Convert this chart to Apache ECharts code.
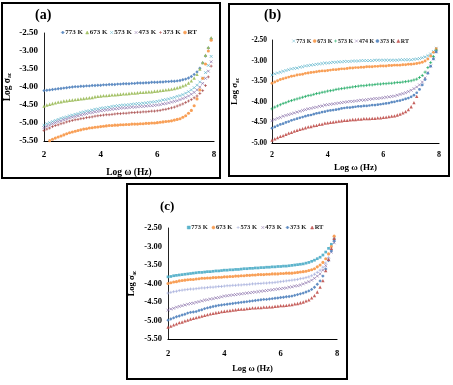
<!DOCTYPE html>
<html>
<head>
<meta charset="utf-8">
<script src="https://cdn.jsdelivr.net/npm/echarts@6/dist/echarts.min.js"></script>
<style>html,body{margin:0;background:#fff}#main{width:453px;height:385px}</style>
</head>
<body>
<div id="main"></div>
<script>
// log(omega) sampling points, shared by every curve
const logW = [2.0,2.1,2.2,2.3,2.4,2.5,2.6,2.7,2.8,2.9,3.0,3.1,3.2,3.3,3.4,3.5,3.6,3.7,3.8,3.9,
  4.0,4.1,4.2,4.3,4.4,4.5,4.6,4.7,4.8,4.9,5.0,5.1,5.2,5.3,5.4,5.5,5.6,5.7,5.8,5.9,
  6.0,6.1,6.2,6.3,6.4,6.5,6.6,6.7,6.8,6.9,7.0,7.1,7.2,7.3,7.4,7.5,7.6,7.7,7.8,7.9];
const xTicks = [2, 4, 6, 8];

// (a)
const a773 = [-4.10,-4.09,-4.08,-4.07,-4.06,-4.05,-4.04,-4.03,-4.02,-4.01,-4.00,-3.99,-3.99,-3.98,-3.98,-3.97,-3.97,-3.96,-3.96,-3.95,
  -3.95,-3.94,-3.94,-3.93,-3.93,-3.93,-3.92,-3.92,-3.91,-3.91,-3.91,-3.90,-3.90,-3.89,-3.89,-3.89,-3.88,-3.88,-3.87,-3.87,
  -3.87,-3.86,-3.86,-3.85,-3.85,-3.84,-3.84,-3.83,-3.82,-3.80,-3.78,-3.75,-3.71,-3.65,-3.58,-3.48,-3.33,-3.14,-2.92,-2.66];
const a673 = [-4.53,-4.50,-4.48,-4.46,-4.44,-4.42,-4.41,-4.39,-4.38,-4.37,-4.36,-4.35,-4.34,-4.33,-4.32,-4.31,-4.30,-4.29,-4.27,-4.26,
  -4.25,-4.24,-4.24,-4.23,-4.22,-4.22,-4.21,-4.20,-4.19,-4.19,-4.18,-4.17,-4.17,-4.16,-4.15,-4.15,-4.14,-4.13,-4.13,-4.12,
  -4.11,-4.10,-4.09,-4.08,-4.07,-4.06,-4.04,-4.02,-4.00,-3.97,-3.94,-3.89,-3.83,-3.75,-3.65,-3.50,-3.32,-3.12,-2.90,-2.63];
const a573 = [-5.06,-5.02,-4.99,-4.96,-4.93,-4.90,-4.87,-4.85,-4.83,-4.80,-4.78,-4.76,-4.74,-4.71,-4.69,-4.67,-4.66,-4.64,-4.62,-4.61,
  -4.59,-4.58,-4.57,-4.56,-4.54,-4.53,-4.52,-4.51,-4.50,-4.50,-4.49,-4.48,-4.47,-4.46,-4.46,-4.45,-4.44,-4.43,-4.42,-4.41,
  -4.40,-4.38,-4.36,-4.35,-4.33,-4.31,-4.29,-4.26,-4.24,-4.21,-4.17,-4.13,-4.08,-4.02,-3.95,-3.86,-3.75,-3.60,-3.40,-3.15];
const a473 = [-5.13,-5.09,-5.06,-5.02,-4.99,-4.96,-4.94,-4.91,-4.89,-4.86,-4.84,-4.82,-4.80,-4.78,-4.76,-4.74,-4.72,-4.71,-4.69,-4.68,
  -4.66,-4.65,-4.64,-4.63,-4.62,-4.61,-4.60,-4.59,-4.58,-4.58,-4.57,-4.56,-4.56,-4.55,-4.54,-4.54,-4.53,-4.52,-4.52,-4.51,
  -4.50,-4.49,-4.47,-4.46,-4.44,-4.42,-4.40,-4.38,-4.35,-4.32,-4.29,-4.25,-4.20,-4.15,-4.08,-4.00,-3.90,-3.76,-3.56,-3.30];
const a373 = [-5.21,-5.17,-5.14,-5.10,-5.07,-5.05,-5.02,-5.00,-4.97,-4.95,-4.93,-4.91,-4.90,-4.88,-4.87,-4.85,-4.84,-4.83,-4.81,-4.80,
  -4.79,-4.78,-4.77,-4.77,-4.76,-4.75,-4.74,-4.74,-4.73,-4.73,-4.72,-4.71,-4.71,-4.70,-4.70,-4.69,-4.69,-4.68,-4.67,-4.67,
  -4.66,-4.65,-4.63,-4.62,-4.60,-4.58,-4.56,-4.53,-4.50,-4.47,-4.43,-4.39,-4.35,-4.30,-4.25,-4.18,-4.10,-3.96,-3.72,-3.42];
const aRT = [-5.58,-5.53,-5.49,-5.45,-5.42,-5.39,-5.36,-5.33,-5.30,-5.27,-5.25,-5.23,-5.21,-5.19,-5.17,-5.16,-5.14,-5.13,-5.12,-5.11,
  -5.10,-5.09,-5.08,-5.07,-5.07,-5.06,-5.06,-5.05,-5.05,-5.04,-5.04,-5.03,-5.03,-5.03,-5.02,-5.02,-5.01,-5.01,-5.00,-5.00,
  -4.99,-4.98,-4.97,-4.96,-4.95,-4.94,-4.92,-4.90,-4.88,-4.84,-4.80,-4.73,-4.65,-4.52,-4.33,-4.08,-3.76,-3.36,-3.00,-2.70];

// (b)
const b773 = [-3.35,-3.32,-3.30,-3.28,-3.26,-3.24,-3.22,-3.20,-3.19,-3.18,-3.16,-3.15,-3.13,-3.12,-3.11,-3.10,-3.09,-3.08,-3.07,-3.06,
  -3.06,-3.05,-3.04,-3.04,-3.03,-3.03,-3.02,-3.02,-3.02,-3.01,-3.01,-3.01,-3.00,-3.00,-3.00,-3.00,-3.00,-2.99,-2.99,-2.99,
  -2.99,-2.99,-2.99,-2.99,-2.99,-2.99,-2.98,-2.98,-2.98,-2.98,-2.98,-2.97,-2.96,-2.95,-2.93,-2.91,-2.88,-2.84,-2.78,-2.70];
const b673 = [-3.55,-3.52,-3.49,-3.46,-3.44,-3.42,-3.40,-3.38,-3.37,-3.35,-3.34,-3.33,-3.31,-3.30,-3.29,-3.28,-3.27,-3.26,-3.25,-3.25,
  -3.24,-3.23,-3.22,-3.22,-3.21,-3.20,-3.20,-3.19,-3.18,-3.18,-3.17,-3.17,-3.16,-3.16,-3.15,-3.15,-3.15,-3.14,-3.14,-3.13,
  -3.13,-3.13,-3.12,-3.12,-3.11,-3.11,-3.11,-3.10,-3.10,-3.09,-3.09,-3.08,-3.07,-3.06,-3.04,-3.01,-2.96,-2.89,-2.80,-2.71];
const b573 = [-4.17,-4.13,-4.10,-4.07,-4.04,-4.02,-3.99,-3.97,-3.95,-3.93,-3.91,-3.89,-3.87,-3.85,-3.84,-3.82,-3.80,-3.79,-3.77,-3.76,
  -3.74,-3.73,-3.72,-3.70,-3.69,-3.68,-3.67,-3.66,-3.65,-3.64,-3.63,-3.62,-3.61,-3.61,-3.60,-3.59,-3.59,-3.58,-3.57,-3.57,
  -3.56,-3.56,-3.55,-3.55,-3.54,-3.53,-3.53,-3.52,-3.51,-3.50,-3.49,-3.47,-3.45,-3.41,-3.36,-3.28,-3.17,-3.05,-2.90,-2.75];
const b474 = [-4.46,-4.43,-4.40,-4.38,-4.35,-4.33,-4.31,-4.29,-4.27,-4.25,-4.23,-4.21,-4.19,-4.17,-4.16,-4.14,-4.13,-4.11,-4.10,-4.08,
  -4.07,-4.06,-4.05,-4.04,-4.03,-4.02,-4.01,-4.00,-3.99,-3.99,-3.98,-3.97,-3.96,-3.96,-3.95,-3.94,-3.93,-3.92,-3.92,-3.91,
  -3.90,-3.89,-3.88,-3.87,-3.86,-3.84,-3.82,-3.80,-3.78,-3.75,-3.72,-3.68,-3.64,-3.59,-3.52,-3.42,-3.29,-3.13,-2.96,-2.79];
const b373 = [-4.64,-4.61,-4.58,-4.55,-4.53,-4.50,-4.48,-4.45,-4.43,-4.41,-4.39,-4.37,-4.35,-4.33,-4.32,-4.30,-4.28,-4.27,-4.25,-4.24,
  -4.22,-4.21,-4.20,-4.19,-4.18,-4.16,-4.15,-4.14,-4.14,-4.13,-4.12,-4.11,-4.11,-4.10,-4.10,-4.09,-4.08,-4.08,-4.07,-4.06,
  -4.05,-4.04,-4.03,-4.01,-4.00,-3.98,-3.97,-3.95,-3.93,-3.91,-3.88,-3.84,-3.78,-3.70,-3.59,-3.46,-3.31,-3.14,-2.96,-2.79];
const bRT = [-4.93,-4.90,-4.87,-4.84,-4.82,-4.79,-4.76,-4.74,-4.71,-4.69,-4.67,-4.65,-4.63,-4.61,-4.60,-4.58,-4.57,-4.55,-4.54,-4.52,
  -4.51,-4.50,-4.49,-4.48,-4.47,-4.46,-4.45,-4.45,-4.44,-4.43,-4.43,-4.42,-4.42,-4.41,-4.41,-4.41,-4.40,-4.40,-4.39,-4.39,
  -4.38,-4.37,-4.36,-4.35,-4.34,-4.32,-4.30,-4.27,-4.24,-4.19,-4.12,-4.02,-3.87];

// (c)
const c773 = [-3.82,-3.81,-3.79,-3.78,-3.77,-3.76,-3.75,-3.74,-3.73,-3.72,-3.71,-3.70,-3.70,-3.69,-3.68,-3.68,-3.67,-3.66,-3.66,-3.65,
  -3.64,-3.64,-3.63,-3.63,-3.62,-3.62,-3.61,-3.60,-3.60,-3.59,-3.59,-3.58,-3.58,-3.57,-3.57,-3.56,-3.56,-3.55,-3.55,-3.54,
  -3.54,-3.53,-3.53,-3.52,-3.51,-3.50,-3.49,-3.48,-3.47,-3.45,-3.43,-3.40,-3.37,-3.33,-3.29,-3.23,-3.15,-3.05,-2.94,-2.80];
const c673 = [-4.00,-3.98,-3.96,-3.95,-3.93,-3.92,-3.91,-3.90,-3.89,-3.89,-3.88,-3.87,-3.86,-3.86,-3.85,-3.85,-3.84,-3.84,-3.83,-3.83,
  -3.82,-3.82,-3.81,-3.81,-3.80,-3.80,-3.79,-3.79,-3.78,-3.78,-3.77,-3.77,-3.76,-3.76,-3.76,-3.75,-3.75,-3.74,-3.74,-3.74,
  -3.73,-3.73,-3.72,-3.72,-3.72,-3.71,-3.70,-3.69,-3.68,-3.67,-3.65,-3.63,-3.60,-3.55,-3.50,-3.43,-3.33,-3.20,-3.00,-2.72];
const c573 = [-4.26,-4.24,-4.22,-4.21,-4.19,-4.18,-4.17,-4.16,-4.15,-4.15,-4.14,-4.13,-4.12,-4.12,-4.11,-4.10,-4.10,-4.09,-4.08,-4.08,
  -4.07,-4.06,-4.06,-4.05,-4.05,-4.04,-4.04,-4.03,-4.03,-4.02,-4.01,-4.01,-4.00,-4.00,-3.99,-3.99,-3.98,-3.98,-3.97,-3.96,
  -3.95,-3.94,-3.93,-3.92,-3.91,-3.90,-3.89,-3.87,-3.86,-3.84,-3.82,-3.79,-3.75,-3.70,-3.64,-3.56,-3.45,-3.30,-3.08,-2.80];
const c473 = [-4.72,-4.69,-4.67,-4.64,-4.62,-4.60,-4.58,-4.56,-4.54,-4.53,-4.51,-4.49,-4.47,-4.45,-4.44,-4.42,-4.41,-4.39,-4.38,-4.36,
  -4.34,-4.33,-4.32,-4.31,-4.30,-4.29,-4.28,-4.27,-4.26,-4.25,-4.24,-4.23,-4.22,-4.21,-4.20,-4.19,-4.18,-4.17,-4.16,-4.15,
  -4.14,-4.13,-4.12,-4.10,-4.09,-4.07,-4.06,-4.04,-4.01,-3.98,-3.95,-3.91,-3.86,-3.80,-3.74,-3.64,-3.52,-3.36,-3.15,-2.90];
const c373 = [-4.99,-4.96,-4.93,-4.90,-4.88,-4.85,-4.83,-4.80,-4.78,-4.77,-4.76,-4.73,-4.71,-4.68,-4.66,-4.64,-4.62,-4.61,-4.59,-4.58,
  -4.57,-4.56,-4.55,-4.54,-4.53,-4.52,-4.51,-4.50,-4.49,-4.48,-4.47,-4.46,-4.45,-4.44,-4.43,-4.43,-4.42,-4.41,-4.40,-4.39,
  -4.38,-4.37,-4.36,-4.35,-4.34,-4.32,-4.30,-4.28,-4.26,-4.23,-4.20,-4.16,-4.10,-4.02,-3.93,-3.80,-3.61,-3.38,-3.12,-2.85];
const cRT = [-5.18,-5.15,-5.12,-5.09,-5.06,-5.04,-5.01,-4.99,-4.96,-4.94,-4.92,-4.90,-4.88,-4.86,-4.84,-4.82,-4.81,-4.79,-4.78,-4.76,
  -4.75,-4.74,-4.73,-4.72,-4.71,-4.70,-4.69,-4.69,-4.68,-4.67,-4.66,-4.66,-4.65,-4.65,-4.64,-4.64,-4.63,-4.63,-4.62,-4.61,
  -4.60,-4.60,-4.59,-4.58,-4.57,-4.55,-4.54,-4.52,-4.50,-4.47,-4.44,-4.39,-4.33,-4.23,-4.10,-3.92,-3.65,-3.35,-3.05,-2.78];

const legendA = ['773 K', '673 K', '573 K', '473 K', '373 K', 'RT'];
const legendB = ['773 K', '673 K', '573 K', '474 K', '373 K', 'RT'];
const legendC = ['773 K', '673 K', '573 K', '473 K', '373 K', 'RT'];

const FONT = 'Liberation Serif';
const CROSS = 'path://M0,0L10,10M10,0L0,10';
const PLUS = 'path://M5,0L5,10M0,5L10,5';

function mk(panel, name, idx, ys, color, symbol, size, bw) {
  return {
    name: panel + '|' + name,
    type: 'scatter',
    xAxisIndex: idx,
    yAxisIndex: idx,
    symbol: symbol,
    symbolSize: size,
    itemStyle: { color: color, borderColor: color, borderWidth: bw || 0, opacity: 0.9 },
    data: ys.map((y, i) => [logW[i], y])
  };
}

function xAx(idx, size, margin, gap, nameSize) {
  return {
    gridIndex: idx, type: 'value', min: 2, max: 8, interval: 2,
    name: 'Log \u03c9 (Hz)', nameLocation: 'middle', nameGap: gap,
    nameTextStyle: { fontFamily: FONT, fontWeight: 'bold', fontSize: nameSize, color: '#000' },
    axisLine: { lineStyle: { color: '#000', width: 1.2 } },
    axisTick: { show: false }, splitLine: { show: false },
    axisLabel: { fontFamily: FONT, fontWeight: 'bold', fontSize: size, color: '#000', margin: margin,
      formatter: v => xTicks.includes(v) ? String(v) : '' }
  };
}

function yAx(idx, min, size, margin, gap, nameSize) {
  return {
    gridIndex: idx, type: 'value', min: min, max: -2.5, interval: 0.5,
    name: '{n|Log \u03c3}{s|ac}', nameLocation: 'middle', nameRotate: 90, nameGap: gap,
    nameTextStyle: { rich: {
      n: { fontFamily: FONT, fontWeight: 'bold', fontSize: nameSize, color: '#000' },
      s: { fontFamily: FONT, fontWeight: 'bold', fontSize: nameSize * 0.6, color: '#000', padding: [5, 0, 0, 0] }
    } },
    axisLine: { show: true, lineStyle: { color: '#222', width: 1 } },
    axisTick: { show: false }, splitLine: { show: false },
    axisLabel: { fontFamily: FONT, fontWeight: 'bold', fontSize: size, color: '#000', margin: margin,
      formatter: v => v.toFixed(2) }
  };
}

function lg(panel, names, left, top, size, gap) {
  return {
    left: left, top: top, padding: 0, itemWidth: 3, itemHeight: 3, itemGap: gap,
    itemStyle: { borderWidth: 0.5 },
    data: names.map(n => panel + '|' + n),
    formatter: n => n.split('|')[1],
    textStyle: { fontFamily: FONT, fontWeight: 'bold', fontSize: size, color: '#222', padding: [0, 0, 0, -4] }
  };
}

const chart = echarts.init(document.getElementById('main'));
chart.setOption({
  backgroundColor: '#fff',
  animation: false,
  title: [
    { text: '(a)', left: 35, top: 8, padding: 0, textStyle: { fontFamily: FONT, fontWeight: 'bold', fontSize: 14, color: '#000' } },
    { text: '(b)', left: 264, top: 8, padding: 0, textStyle: { fontFamily: FONT, fontWeight: 'bold', fontSize: 14, color: '#000' } },
    { text: '(c)', left: 160, top: 200, padding: 0, textStyle: { fontFamily: FONT, fontWeight: 'bold', fontSize: 13, color: '#000' } }
  ],
  graphic: [
    { type: 'rect', shape: { x: 2, y: 3, width: 218, height: 175 }, style: { fill: 'none', stroke: '#000', lineWidth: 2 } },
    { type: 'rect', shape: { x: 229, y: 4, width: 220, height: 172 }, style: { fill: 'none', stroke: '#000', lineWidth: 2 } },
    { type: 'rect', shape: { x: 127, y: 184, width: 220, height: 195 }, style: { fill: 'none', stroke: '#000', lineWidth: 2 } }
  ],
  legend: [
    lg('a', legendA, 61, 29, 7, 2.5),
    lg('b', legendB, 292, 38, 6, 1.5),
    lg('c', legendC, 187, 224, 6.5, 4)
  ],
  grid: [
    { left: 44, top: 33, width: 170, height: 108 },
    { left: 272, top: 40, width: 167, height: 103 },
    { left: 168, top: 228, width: 169, height: 111 }
  ],
  xAxis: [xAx(0, 9, 9, 27, 9.5), xAx(1, 8, 8, 20, 9), xAx(2, 8.5, 10, 25, 8.5)],
  yAxis: [yAx(0, -5.5, 9, 6, 31, 9.5), yAx(1, -5.0, 7.5, 5, 32, 9), yAx(2, -5.5, 8.5, 6, 31, 8.5)],
  series: [
    mk('a', '773 K', 0, a773, '#4F81BD', 'diamond', 3.4),
    mk('a', '673 K', 0, a673, '#9BBB59', 'triangle', 3.4),
    mk('a', '573 K', 0, a573, '#4BACC6', CROSS, 2.8, 0.7),
    mk('a', '473 K', 0, a473, '#8064A2', CROSS, 2.8, 0.7),
    mk('a', '373 K', 0, a373, '#A0393A', PLUS, 2.9, 0.7),
    mk('a', 'RT', 0, aRT, '#F79646', 'circle', 3.1),

    mk('b', '773 K', 1, b773, '#4BACC6', CROSS, 2.8, 0.7),
    mk('b', '673 K', 1, b673, '#F79646', 'circle', 2.9),
    mk('b', '573 K', 1, b573, '#00A050', PLUS, 3.1, 0.7),
    mk('b', '474 K', 1, b474, '#8064A2', CROSS, 2.8, 0.7),
    mk('b', '373 K', 1, b373, '#4F81BD', 'circle', 2.7),
    mk('b', 'RT', 1, bRT, '#C0504D', 'triangle', 3.3),

    mk('c', '773 K', 2, c773, '#4BACC6', 'rect', 2.7),
    mk('c', '673 K', 2, c673, '#F79646', 'circle', 3.1),
    mk('c', '573 K', 2, c573, '#9DA8D8', PLUS, 3.1, 0.7),
    mk('c', '473 K', 2, c473, '#8064A2', CROSS, 2.8, 0.7),
    mk('c', '373 K', 2, c373, '#4F81BD', 'diamond', 3.4),
    mk('c', 'RT', 2, cRT, '#C0504D', 'triangle', 3.3)
  ]
});
</script>
</body>
</html>
